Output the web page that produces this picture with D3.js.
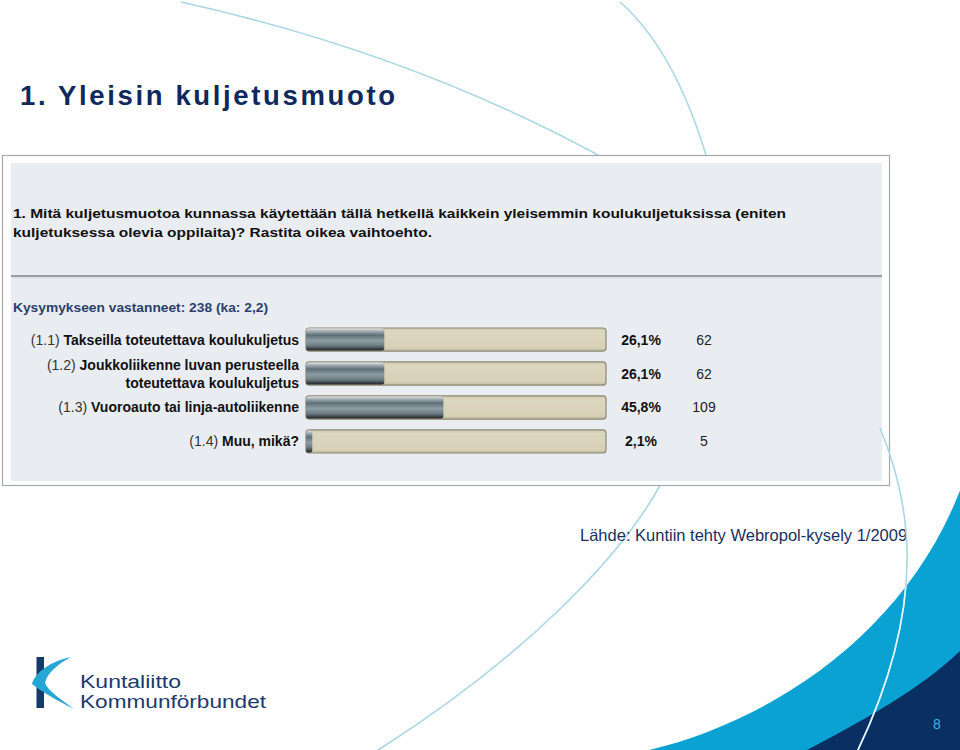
<!DOCTYPE html>
<html>
<head>
<meta charset="utf-8">
<script src="https://cdn.jsdelivr.net/npm/d3@7/dist/d3.min.js"></script>
<style>
  html, body { margin: 0; padding: 0; background: #ffffff; }
  svg { display: block; }
  text { font-family: Arial, "Liberation Sans", sans-serif; }
</style>
</head>
<body>
<svg id="chart" width="960" height="750"></svg>
<script>
// ---- data ----
const pageTitle = "1. Yleisin kuljetusmuoto";
const questionLines = [
  "1. Mitä kuljetusmuotoa kunnassa käytettään tällä hetkellä kaikkein yleisemmin koulukuljetuksissa (eniten",
  "kuljetuksessa olevia oppilaita)? Rastita oikea vaihtoehto."
];
const respondentsText = "Kysymykseen vastanneet: 238 (ka: 2,2)";
const codes = ["(1.1)", "(1.2)", "(1.3)", "(1.4)"];
const labels = [
  ["Takseilla toteutettava koulukuljetus"],
  ["Joukkoliikenne luvan perusteella", "toteutettava koulukuljetus"],
  ["Vuoroauto tai linja-autoliikenne"],
  ["Muu, mikä?"]
];
const percents = [26.1, 26.1, 45.8, 2.1];
const counts = [62, 62, 109, 5];
const sourceText = "Lähde: Kuntiin tehty Webropol-kysely 1/2009";
const logoLines = ["Kuntaliitto", "Kommunförbundet"];
const pageNumber = "8";

const rows = codes.map((c, i) => ({ code: c, label: labels[i], pct: percents[i], n: counts[i] }));

const svg = d3.select("#chart");
const defs = svg.append("defs");

// gradients
const g1 = defs.append("linearGradient").attr("id", "fillGrad").attr("x1", 0).attr("y1", 0).attr("x2", 0).attr("y2", 1);
[["0%", "#dfe4e6"], ["12%", "#a3afb4"], ["30%", "#5f6f77"], ["55%", "#8e9da4"], ["78%", "#6c7b82"], ["92%", "#3a4246"], ["100%", "#1c2124"]]
  .forEach(s => g1.append("stop").attr("offset", s[0]).attr("stop-color", s[1]));
const g2 = defs.append("linearGradient").attr("id", "trackGrad").attr("x1", 0).attr("y1", 0).attr("x2", 0).attr("y2", 1);
[["0%", "#cdc8ad"], ["15%", "#dcd7bf"], ["85%", "#d6d1b7"], ["100%", "#bdb89e"]]
  .forEach(s => g2.append("stop").attr("offset", s[0]).attr("stop-color", s[1]));

// ---- decorative background lines (under panel) ----
const deco = svg.append("g").attr("fill", "none").attr("stroke", "#a9d7e4").attr("stroke-width", 1.6);
deco.append("path").attr("d", "M181,2 Q420,55 616,165");
deco.append("path").attr("d", "M620,2 Q676,51 709,165");
deco.append("path").attr("d", "M662,482 C620,560 520,660 375,752");

// ---- title ----
const title = svg.append("text")
  .attr("x", 20).attr("y", 105)
  .attr("font-size", 27.5).attr("font-weight", "bold")
  .attr("fill", "#10295c")
  .text(pageTitle);
{
  const w = title.node().getComputedTextLength();
  const n = pageTitle.length;
  title.attr("letter-spacing", Math.max(0, (375 - w) / (n - 1)).toFixed(2));
}

// ---- panel ----
svg.append("rect").attr("x", 2.5).attr("y", 155.5).attr("width", 887).attr("height", 330)
  .attr("fill", "#ffffff").attr("stroke", "#a6a8aa").attr("stroke-width", 1.2);
svg.append("rect").attr("x", 11).attr("y", 163).attr("width", 871).attr("height", 318)
  .attr("fill", "#e9edf2");
svg.append("line").attr("x1", 11).attr("x2", 882).attr("y1", 276).attr("y2", 276)
  .attr("stroke", "#9a9ea3").attr("stroke-width", 2);
svg.append("line").attr("x1", 11).attr("x2", 882).attr("y1", 277.8).attr("y2", 277.8)
  .attr("stroke", "#d3d7dc").attr("stroke-width", 1);

// question text
const qWidths = [773, 419];
questionLines.forEach((t, i) => {
  svg.append("text")
    .attr("x", 13).attr("y", 218 + i * 19)
    .attr("font-size", 13.6).attr("font-weight", "bold").attr("fill", "#111")
    .attr("textLength", qWidths[i]).attr("lengthAdjust", "spacingAndGlyphs")
    .text(t);
});
svg.append("text")
  .attr("x", 13).attr("y", 312)
  .attr("font-size", 13.4).attr("font-weight", "bold").attr("fill", "#2b3f6c")
  .attr("textLength", 255).attr("lengthAdjust", "spacingAndGlyphs")
  .text(respondentsText);

// ---- bars ----
const trackX = 306, trackW = 300;
const x = d3.scaleLinear().domain([0, 100]).range([trackX, trackX + trackW]);
const y = d3.scaleBand().domain(codes).range([328, 453]).paddingInner(0.32).paddingOuter(0);
const bh = y.bandwidth();

const rowG = svg.append("g").selectAll("g").data(rows).join("g");

rowG.append("rect")
  .attr("x", x(0)).attr("y", d => y(d.code))
  .attr("width", x(100) - x(0)).attr("height", bh)
  .attr("rx", 3).attr("ry", 3)
  .attr("fill", "url(#trackGrad)").attr("stroke", "#8c8772").attr("stroke-width", 1.2);

rowG.append("rect")
  .attr("x", x(0)).attr("y", d => y(d.code) + 0.5)
  .attr("width", d => x(d.pct) - x(0)).attr("height", bh - 1)
  .attr("rx", 2.5).attr("ry", 2.5)
  .attr("fill", "url(#fillGrad)");

// labels
rowG.each(function (d) {
  const g = d3.select(this);
  const cy = y(d.code) + bh / 2;
  const nL = d.label.length;
  const lineH = 18;
  d.label.forEach((line, j) => {
    const baseY = cy + 5 - (nL - 1) * lineH / 2 + j * lineH;
    const t = g.append("text")
      .attr("x", 299).attr("y", baseY)
      .attr("text-anchor", "end").attr("font-size", 14);
    if (j === 0) {
      t.append("tspan").attr("fill", "#333").text(d.code + " ");
    }
    t.append("tspan").attr("font-weight", "bold").attr("fill", "#111").text(line);
  });
  g.append("text")
    .attr("x", 641).attr("y", cy + 5)
    .attr("text-anchor", "middle").attr("font-size", 14).attr("font-weight", "bold").attr("fill", "#111")
    .text(d3.format(".1f")(d.pct).replace(".", ",") + "%");
  g.append("text")
    .attr("x", 704).attr("y", cy + 5)
    .attr("text-anchor", "middle").attr("font-size", 14).attr("fill", "#222")
    .text(d.n);
});

// ---- source ----
svg.append("text")
  .attr("x", 580).attr("y", 541)
  .attr("font-size", 16.5).attr("fill", "#1a305f")
  .text(sourceText);

// ---- bottom-right shapes ----
const clipId = "blueClip";
const lightPath = "M645,751 C770,722 905,635 961,488 L961,751 Z";
const navyPath = "M805,751 C860,722 920,690 961,650 L961,751 Z";
svg.append("path").attr("d", lightPath).attr("fill", "#0aa1d3");
svg.append("path").attr("d", navyPath).attr("fill", "#0a2f62");
defs.append("clipPath").attr("id", clipId).append("path").attr("d", lightPath);

const arcPath = "M880,428 C910,500 930,600 857,752";
svg.append("path").attr("d", arcPath).attr("fill", "none").attr("stroke", "#a9d7e4").attr("stroke-width", 1.6);
svg.append("path").attr("d", arcPath).attr("fill", "none").attr("stroke", "#e8f6fb").attr("stroke-width", 1.6)
  .attr("clip-path", "url(#" + clipId + ")");

svg.append("text")
  .attr("x", 937).attr("y", 729)
  .attr("text-anchor", "middle").attr("font-size", 14).attr("fill", "#4aaedc")
  .text(pageNumber);

// ---- logo ----
const logo = svg.append("g");
logo.append("rect").attr("x", 36.5).attr("y", 657).attr("width", 7.5).attr("height", 51).attr("fill", "#123a6b");
logo.append("path")
  .attr("d", "M71,657 C52,661 36,671 32,684 C42,692 58,701 74,709 C62,700 48,691 45,683 C47,673 58,664 71,657 Z")
  .attr("fill", "#27a6d6");
logoLines.forEach((t, i) => {
  logo.append("text")
    .attr("x", 80).attr("y", 688 + i * 20)
    .attr("font-family", "'Open Sans', 'Noto Sans', sans-serif")
    .attr("font-size", 19).attr("fill", "#1d3a6e")
    .attr("textLength", i === 0 ? 101 : 186).attr("lengthAdjust", "spacingAndGlyphs")
    .text(t);
});
</script>
</body>
</html>
